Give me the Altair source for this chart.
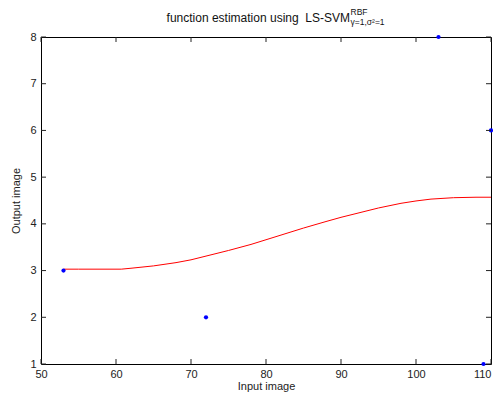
import altair as alt
import pandas as pd

# data points (blue dots)
pt_x = [53, 72, 103, 109, 110]
pt_y = [3, 2, 8, 1, 6]

# LS-SVM estimate (red curve)
curve_x = [53, 55, 58, 60, 60.7, 62, 65, 68, 70, 72, 75, 78, 80, 82, 85, 88, 90, 92, 95, 98, 100, 102, 105, 108, 110]
curve_y = [3.03, 3.03, 3.03, 3.03, 3.03, 3.05, 3.10, 3.17, 3.23, 3.31, 3.43, 3.56, 3.66, 3.76, 3.91, 4.05, 4.14, 4.22, 4.34, 4.44, 4.49, 4.53, 4.56, 4.57, 4.57]

x_ticks = [50, 60, 70, 80, 90, 100, 110]
y_ticks = [1, 2, 3, 4, 5, 6, 7, 8]

W, H = 450, 327
FONT = "Liberation Sans"

pts = pd.DataFrame({"x": pt_x, "y": pt_y})
crv = pd.DataFrame({"x": curve_x, "y": curve_y})
xt = pd.DataFrame({"x": x_ticks})
yt = pd.DataFrame({"y": y_ticks})

xs = alt.Scale(domain=[50, 110], nice=False, zero=False)
ys = alt.Scale(domain=[1, 8], nice=False, zero=False)

x_axis = alt.Axis(values=x_ticks, title="Input image", ticks=False, domain=False, grid=False,
                  labelPadding=4, titlePadding=1, labelFontSize=11, titleFontSize=11,
                  labelFont=FONT, titleFont=FONT, titleFontWeight="normal",
                  labelColor="#222222", titleColor="#222222", labelFlush=False,
                  labelAlign=alt.condition(f"datum.value == {x_ticks[-1]}", alt.value("right"), alt.value("center")))
y_axis = alt.Axis(values=y_ticks, title="Output image", ticks=False, domain=False, grid=False,
                  labelPadding=5, titlePadding=8, labelFontSize=11, titleFontSize=11,
                  labelFont=FONT, titleFont=FONT, titleFontWeight="normal",
                  labelColor="#222222", titleColor="#222222", labelFlush=False)

line = alt.Chart(crv).mark_line(color="#ff0000", strokeWidth=1, clip=False).encode(
    x=alt.X("x:Q", scale=xs, axis=x_axis),
    y=alt.Y("y:Q", scale=ys, axis=y_axis),
)

points = alt.Chart(pts).mark_point(filled=True, shape="circle", size=18, color="#0000ff",
                                   opacity=1, clip=False).encode(
    x=alt.X("x:Q", scale=xs),
    y=alt.Y("y:Q", scale=ys),
)

# inward tick marks on all four sides, drawn as stroked path symbols (length 5px)
tick_color = "#222222"
def tick_layer(df, path, **enc):
    return alt.Chart(df).mark_point(shape=path, size=100, filled=False, stroke=tick_color,
                                    strokeWidth=1, opacity=1, clip=False).encode(**enc)

xb = tick_layer(xt, "M0,0L0,-1", x=alt.X("x:Q", scale=xs), y=alt.value(H))
xtop = tick_layer(xt, "M0,0L0,1", x=alt.X("x:Q", scale=xs), y=alt.value(0))
yl = tick_layer(yt, "M0,0L1,0", y=alt.Y("y:Q", scale=ys), x=alt.value(0))
yr = tick_layer(yt, "M0,0L-1,0", y=alt.Y("y:Q", scale=ys), x=alt.value(W))

one = pd.DataFrame({"a": [0]})
t_main = alt.Chart(one).mark_text(text="function estimation using\u00a0\u00a0LS-SVM", align="right",
                                  baseline="alphabetic", fontSize=12, font=FONT, color="#111111").encode(
    x=alt.value(309), y=alt.value(-15.5))
t_sup = alt.Chart(one).mark_text(text="RBF", align="left", baseline="alphabetic",
                                 fontSize=8.5, font=FONT, color="#111111").encode(
    x=alt.value(309.5), y=alt.value(-22))
t_sub = alt.Chart(one).mark_text(text="γ=1,σ²=1", align="left", baseline="alphabetic",
                                 fontSize=8.5, font=FONT, color="#111111").encode(
    x=alt.value(309.5), y=alt.value(-12))

chart = alt.layer(line, points, xb, xtop, yl, yr, t_main, t_sup, t_sub).properties(
    width=W, height=H,
    padding={"left": 33, "top": 29, "right": 2, "bottom": 30},
    autosize=alt.AutoSizeParams(type="none"),
    background="white",
).configure_view(stroke="#000000", strokeWidth=1)

chart.save("out.html", embed_options={"renderer": "svg", "actions": False})
